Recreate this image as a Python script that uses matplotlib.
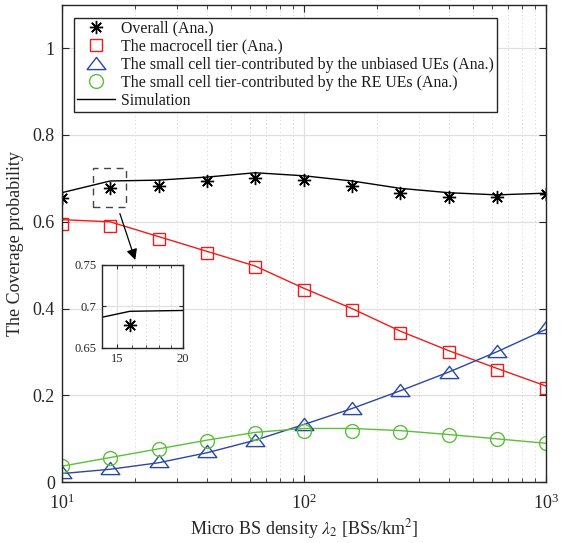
import numpy as np
import matplotlib
matplotlib.use('Agg')
import matplotlib.pyplot as plt
from matplotlib.path import Path
from matplotlib.patches import Rectangle

plt.rcParams['font.family'] = ['Liberation Serif', 'DejaVu Serif']
plt.rcParams['mathtext.fontset'] = 'stix'

# micro BS density (BSs/km^2)
density = [10, 15.85, 25.12, 39.81, 63.1, 100, 158.5, 251.2, 398.1, 631, 1000]

# analytical results (markers)
overall_ana = [0.654, 0.677, 0.683, 0.694, 0.702, 0.696, 0.683, 0.667, 0.658, 0.656, 0.663]
macro_ana = [0.596, 0.590, 0.561, 0.529, 0.497, 0.444, 0.396, 0.344, 0.299, 0.258, 0.218]
unbiased_ana = [0.023, 0.034, 0.048, 0.071, 0.098, 0.135, 0.171, 0.212, 0.255, 0.302, 0.357]
re_ana = [0.038, 0.057, 0.076, 0.096, 0.113, 0.118, 0.119, 0.115, 0.108, 0.099, 0.090]

# simulation results (lines)
overall_sim = [0.667, 0.694, 0.696, 0.703, 0.713, 0.706, 0.694, 0.677, 0.667, 0.662, 0.666]
macro_sim = [0.605, 0.600, 0.566, 0.532, 0.498, 0.447, 0.400, 0.348, 0.303, 0.262, 0.222]
unbiased_sim = [0.020, 0.030, 0.045, 0.068, 0.097, 0.133, 0.170, 0.211, 0.254, 0.301, 0.352]
re_sim = [0.037, 0.057, 0.077, 0.097, 0.115, 0.124, 0.124, 0.119, 0.110, 0.100, 0.090]

labels = ['Overall (Ana.)', 'The macrocell tier (Ana.)',
          'The small cell tier-contributed by the unbiased UEs (Ana.)',
          'The small cell tier-contributed by the RE UEs (Ana.)', 'Simulation']

red = '#ee1c1c'
blue = '#2b47a6'
green = '#5cbf3c'
axcol = '#262626'

# matlab style wide triangle
tri = Path([(0, 0.65), (-1, -0.65), (1, -0.65), (0, 0.65)],
           [Path.MOVETO, Path.LINETO, Path.LINETO, Path.CLOSEPOLY])
star = (8, 2, 0)

fig = plt.figure(figsize=(5.61, 5.43), dpi=100)
ax = fig.add_axes([0.110, 0.1118, 0.8627, 0.8795])

lw = 1.0
ax.plot(density, overall_sim, color='k', lw=lw)
ax.plot(density, macro_sim, color=red, lw=lw)
ax.plot(density, unbiased_sim, color=blue, lw=lw)
ax.plot(density, re_sim, color=green, lw=lw)

h1, = ax.plot(density, overall_ana, ls='none', marker=star, ms=9.5, mec='k', mew=1.0, label=labels[0])
h2, = ax.plot(density, macro_ana, ls='none', marker='s', ms=8, mfc='none', mec=red, mew=1.0, label=labels[1])
h3, = ax.plot(density, unbiased_ana, ls='none', marker=tri, ms=13.5, mfc='none', mec=blue, mew=1.0, label=labels[2])
h4, = ax.plot(density, re_ana, ls='none', marker='o', ms=10, mfc='none', mec=green, mew=1.0, label=labels[3])
h5, = ax.plot([], [], color='k', lw=lw, label=labels[4])

ax.set_xscale('log')
ax.set_xlim(10, 1000)
ax.set_ylim(0, 1.1)
ax.set_yticks([0, 0.2, 0.4, 0.6, 0.8, 1])
ax.set_yticklabels(['0', '0.2', '0.4', '0.6', '0.8', '1'])

ax.grid(True, which='major', color='#e0e0e0', lw=0.9, ls='-')
ax.grid(True, which='minor', axis='x', color='#cfcfcf', lw=0.7, ls=(0, (1, 3)))
ax.set_axisbelow(True)
ax.tick_params(which='both', direction='in', top=True, right=True, colors=axcol,
               labelsize=13, length=5)
ax.tick_params(axis='x', which='major', pad=8)
ax.tick_params(axis='y', pad=5)
ax.tick_params(which='minor', length=3)
for s in ax.spines.values():
    s.set_color(axcol)
    s.set_linewidth(1.0)

ax.set_xlabel(r'Micro BS density $\lambda_2$ [BSs/km$^2$]', fontsize=13, color=axcol, labelpad=3)
ax.set_ylabel('The Coverage probability', fontsize=13, color=axcol, labelpad=6)

leg = ax.legend(handles=[h1, h2, h3, h4, h5], loc='upper left',
                bbox_to_anchor=(74 / 561, 1 - 17.7 / 543), bbox_transform=fig.transFigure,
                fontsize=11.4, frameon=True, fancybox=False, framealpha=1,
                edgecolor=axcol, handlelength=2.4, handletextpad=0.4,
                labelspacing=0.13, borderpad=0.18, borderaxespad=0)
leg.get_frame().set_linewidth(1.0)
for t in leg.get_texts():
    t.set_color('#1a1a1a')

# zoom box and arrow
ax.add_patch(Rectangle((13.5, 0.635), 18.44 - 13.5, 0.723 - 0.635, fill=False,
                       ec='#444444', lw=1.0, ls=(0, (5, 4))))
ax.annotate('', xy=(20.3, 0.506), xytext=(17.25, 0.625),
            arrowprops=dict(arrowstyle='-|>', color='k', lw=0.9, mutation_scale=16))

# inset
ins = fig.add_axes([0.1813, 0.3597, 0.1444, 0.1523])
ins.plot(density, overall_sim, color='k', lw=lw)
ins.plot(density, overall_ana, ls='none', marker=star, ms=9.5, mec='k', mew=1.0)
ins.set_xscale('log')
ins.set_xlim(14, 20)
ins.set_ylim(0.65, 0.75)
ins.set_xticks([15, 20])
ins.set_xticklabels(['15', '20'])
ins.set_xticks([16, 17, 18, 19], minor=True)
ins.xaxis.set_minor_formatter(plt.NullFormatter())
ins.set_yticks([0.65, 0.7, 0.75])
ins.set_yticklabels(['0.65', '0.7', '0.75'])
ins.grid(True, which='major', color='#e0e0e0', lw=0.9)
ins.grid(True, which='minor', axis='x', color='#cfcfcf', lw=0.7, ls=(0, (1, 3)))
ins.set_axisbelow(True)
ins.tick_params(which='both', direction='in', top=True, right=True, colors=axcol,
                labelsize=9, length=3)
ins.tick_params(which='minor', length=2)
for s in ins.spines.values():
    s.set_color(axcol)
    s.set_linewidth(1.0)

plt.savefig('out.png', dpi=100)
